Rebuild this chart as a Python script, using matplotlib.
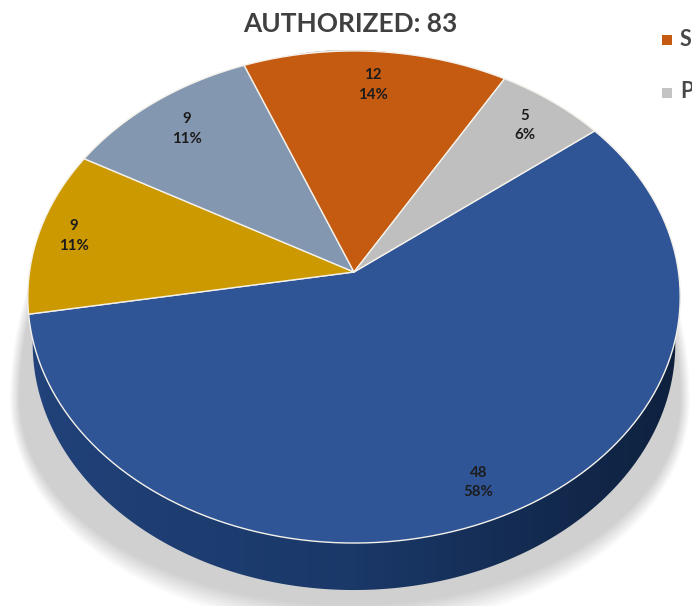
import numpy as np
import matplotlib
matplotlib.use('Agg')
import matplotlib.pyplot as plt
from matplotlib.colors import LinearSegmentedColormap
from matplotlib.patches import Polygon

plt.rcParams['font.family'] = ['Lato', 'DejaVu Sans']

# valores, en sentido horario
valores = [48, 9, 9, 12, 5]
colores = ['#2f5597', '#cc9900', '#8497b0', '#c55a11', '#bfbfbf']
titulo = 'AUTHORIZED: 83'
inicio = 52.0  # grados desde arriba, sentido horario
radio_etiqueta = [0.87, 0.89, 0.83, 0.835, 0.85]

# perspectiva del disco, en pixeles
cx, cy = 354, 272
A, B, p = 324.5, 243.5, 0.1016
alto = 47


def proyectar(ang, r=1.0):
    # circulo unidad -> elipse con el centro desplazado por la perspectiva
    u = r * np.sin(np.radians(ang))
    v = r * np.cos(np.radians(ang))
    return cx + A * u / (1 + p * v), cy - B * v / (1 + p * v)


fig = plt.figure(figsize=(6.92, 6.06), dpi=100)
ax = fig.add_axes([0, 0, 1, 1])

# sombra difusa debajo del disco: mitad de arriba mas alargada
t = np.linspace(0, 2 * np.pi, 400)
for i, d in enumerate(np.linspace(1, 0, 26)):
    gris = 1 - (0.185 * (i + 1) / 26)
    sx = 350 + (330 + 10 * d) * np.cos(t)
    sy = np.where(np.sin(t) > 0,
                  400 + (205 + 24 * d) * np.sin(t),
                  400 + 350 * np.sin(t))
    ax.fill(sx, sy, color=str(gris), lw=0, zorder=1)

# pared lateral con degradado horizontal, recortada a su contorno
angs = np.linspace(90, 270, 300)
xs, ys = proyectar(angs)
xb = cx + (xs - cx) * 0.985
yb = ys + alto
pared = Polygon(np.c_[np.r_[xs, xb[::-1]], np.r_[ys, yb[::-1]]],
                closed=True, transform=ax.transData, fc='none', ec='none')
ax.add_patch(pared)
cmap = LinearSegmentedColormap.from_list('pared', ['#21427a', '#1a3868', '#0e203d'])
img = ax.imshow(np.linspace(0, 1, 256)[None, :], cmap=cmap, aspect='auto',
                extent=[25, 685, 606, 250], zorder=2)
img.set_clip_path(pared)

# cuñas
total = sum(valores)
a0 = inicio
for v, c, r in zip(valores, colores, radio_etiqueta):
    barrido = v / total * 360
    arco = np.linspace(a0, a0 + barrido, 120)
    x, y = proyectar(arco)
    ax.fill(np.r_[cx, x], np.r_[cy, y], facecolor=c, edgecolor='#f4f1ea',
            lw=1.0, joinstyle='round', zorder=3)
    lx, ly = proyectar(a0 + barrido / 2, r)
    ax.text(lx, ly, f'{v}\n{round(v / total * 100)}%', ha='center', va='center',
            fontsize=10.8, fontweight='bold', color='#1c1c1c', linespacing=1.5,
            zorder=5)
    a0 += barrido

ax.text(350, 24, titulo, ha='center', va='center', fontsize=18.9,
        fontweight='bold', color='#404040')

# leyenda pegada al borde derecho
ax.fill([662, 672, 672, 662], [35, 35, 45, 45], color='#c55a11', lw=0)
ax.fill([662, 672, 672, 662], [88, 88, 98, 98], color='#c4c4c4', lw=0)
ax.text(680, 40, 'S', ha='left', va='center', fontsize=15.5, fontweight='bold',
        color='#484848')
ax.text(680, 92, 'P', ha='left', va='center', fontsize=15.5, fontweight='bold',
        color='#484848')

ax.set_xlim(0, 692)
ax.set_ylim(606, 0)
ax.axis('off')

fig.savefig('out.png', dpi=100)
